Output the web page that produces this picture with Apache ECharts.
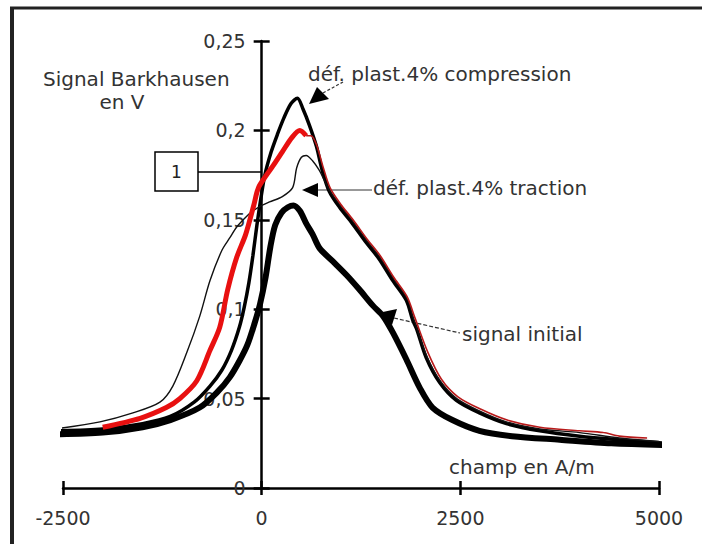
<!DOCTYPE html>
<html><head><meta charset="utf-8">
<script src="https://cdn.jsdelivr.net/npm/echarts@6/dist/echarts.min.js"></script>
<style>html,body{margin:0;padding:0;background:#fff}#c{width:702px;height:544px}</style>
</head><body><div id="c"></div>
<script>
// ---- data (champ en A/m, signal en V) ----
const xTickValues = [-2500, 0, 2500, 5000];
const yTickLabels = ['0', '0,05', '0,1', '0,15', '0,2', '0,25'];

const signalInitial = [
  [-2600,0.030],[-2000,0.031],[-1500,0.034],[-1150,0.038],[-780,0.045],[-550,0.054],
  [-400,0.062],[-280,0.071],[-180,0.080],[-90,0.092],[-20,0.103],[50,0.118],[110,0.135],
  [170,0.147],[250,0.154],[330,0.157],[400,0.158],[480,0.155],[560,0.148],[640,0.142],
  [730,0.134],[890,0.127],[1070,0.119],[1230,0.111],[1400,0.102],[1530,0.096],[1650,0.087],
  [1820,0.072],[1990,0.056],[2150,0.045],[2400,0.038],[2740,0.032],[3150,0.029],[3750,0.027],
  [4400,0.025],[5100,0.024]
];
const compression = [
  [-2600,0.032],[-2000,0.033],[-1500,0.036],[-1150,0.040],[-850,0.048],[-650,0.057],
  [-500,0.066],[-380,0.077],[-280,0.090],[-220,0.101],[-160,0.115],[-110,0.130],[-60,0.147],
  [-10,0.162],[40,0.175],[120,0.188],[200,0.198],[280,0.207],[370,0.215],[450,0.218],
  [520,0.212],[600,0.203],[690,0.191],[760,0.178],[850,0.166],[980,0.157],[1140,0.148],
  [1320,0.137],[1480,0.128],[1650,0.116],[1820,0.105],[1900,0.094],[1950,0.089],[2070,0.073],
  [2240,0.059],[2450,0.049],[2740,0.042],[3080,0.036],[3500,0.032],[4000,0.029],[4500,0.027],
  [5100,0.025]
];
const traction = [
  [-2600,0.033],[-2035,0.037],[-1620,0.042],[-1280,0.048],[-1118,0.057],[-940,0.076],
  [-780,0.096],[-650,0.116],[-500,0.133],[-400,0.140],[-314,0.146],[-188,0.152],[-110,0.155],
  [0,0.158],[100,0.160],[260,0.163],[390,0.168],[440,0.179],[500,0.185],[560,0.186],
  [640,0.183],[720,0.178],[790,0.172],[860,0.166],[990,0.158],[1150,0.149],[1330,0.138],
  [1490,0.129],[1660,0.117],[1830,0.106],[1910,0.095],[2075,0.074],[2245,0.060],[2455,0.050],
  [2745,0.043],[3080,0.037],[3500,0.033],[4000,0.031],[4500,0.028],[5000,0.026]
];
const redRise = [
  [-2000,0.034],[-1530,0.039],[-1200,0.045],[-1030,0.050],[-816,0.060],[-650,0.077],
  [-527,0.090],[-427,0.111],[-314,0.129],[-200,0.142],[-100,0.158],[-40,0.168],[60,0.175],
  [140,0.180],[260,0.188],[380,0.196],[480,0.200],[560,0.197]
];
const redFall = [
  [560,0.197],[620,0.197],[690,0.192],[770,0.180],[860,0.168],[990,0.159],[1150,0.150],
  [1330,0.139],[1490,0.130],[1660,0.118],[1830,0.107],[1930,0.095],[2090,0.076],[2260,0.061],
  [2470,0.051],[2760,0.044],[3090,0.038],[3500,0.034],[4000,0.032],[4300,0.031],[4500,0.029],
  [4850,0.028]
];

const FONT = 'DejaVu Sans';
const GRID = {left: 63, right: 43, top: 41, bottom: 56};
const X_MIN = -2500, X_MAX = 5000;
// shift the vertical axis so it sits at champ = 0
const yAxisOffset = -((0 - X_MIN) / (X_MAX - X_MIN)) * (702 - GRID.left - GRID.right);

const chart = echarts.init(document.getElementById('c'), null, {renderer: 'svg'});

function lineSeries(data, color, width, z) {
  return {type: 'line', data: data, showSymbol: false, symbol: 'none', smooth: 0.3,
    clip: false, z: z, lineStyle: {color: color, width: width}, silent: true};
}
const axisBase = {
  type: 'value', min: X_MIN, max: X_MAX, interval: 2500,
  splitLine: {show: false}
};

chart.setOption({
  animation: false,
  grid: GRID,
  xAxis: [
    Object.assign({}, axisBase, {
      position: 'bottom',
      axisLine: {show: true, onZero: false, lineStyle: {color: '#000', width: 2.5}},
      axisTick: {show: true, inside: false, length: 7, lineStyle: {color: '#000', width: 2.5}},
      axisLabel: {show: true, margin: 20, color: '#333', fontFamily: FONT, fontSize: 19,
        formatter: v => xTickValues.indexOf(v) >= 0 ? String(v) : ''}
    }),
    Object.assign({}, axisBase, {
      position: 'bottom',
      axisLine: {show: false, onZero: false},
      axisTick: {show: true, inside: true, length: 7, lineStyle: {color: '#000', width: 2.5}},
      axisLabel: {show: false}
    })
  ],
  yAxis: [
    {
      type: 'value', min: 0, max: 0.25, interval: 0.05, position: 'left', offset: yAxisOffset,
      splitLine: {show: false},
      axisLine: {show: true, onZero: false, lineStyle: {color: '#000', width: 2.5}},
      axisTick: {show: true, inside: false, length: 8, lineStyle: {color: '#000', width: 2.5}},
      axisLabel: {show: true, margin: 16, color: '#333', fontFamily: FONT, fontSize: 19,
        formatter: v => yTickLabels[Math.round(v / 0.05)]}
    },
    {
      type: 'value', min: 0, max: 0.25, interval: 0.05, position: 'left', offset: yAxisOffset,
      splitLine: {show: false},
      axisLine: {show: false, onZero: false},
      axisTick: {show: true, inside: true, length: 8, lineStyle: {color: '#000', width: 2.5}},
      axisLabel: {show: false}
    }
  ],
  series: [
    lineSeries(signalInitial, '#000', 6, 3),
    lineSeries(compression, '#000', 3.5, 4),
    lineSeries(traction, '#111', 1.4, 5),
    lineSeries(redRise, '#e81010', 5, 6),
    lineSeries(redFall, '#b81a1a', 1.6, 6)
  ],
  graphic: [
    {type: 'line', shape: {x1: 10, y1: 8, x2: 702, y2: 8}, style: {stroke: '#222', lineWidth: 3}},
    {type: 'line', shape: {x1: 12, y1: 7, x2: 12, y2: 544}, style: {stroke: '#222', lineWidth: 4}},
    {type: 'line', shape: {x1: 198, y1: 172, x2: 262, y2: 172}, style: {stroke: '#000', lineWidth: 1.5}},
    {type: 'rect', shape: {x: 155, y: 152, width: 43, height: 39}, style: {fill: '#fff', stroke: '#000', lineWidth: 1.5}},
    {type: 'text', x: 176.5, y: 172, style: {text: '1', fontFamily: FONT, fontSize: 17, fill: '#222', align: 'center', verticalAlign: 'middle'}},
    {type: 'text', x: 43, y: 79, style: {text: 'Signal Barkhausen', fontFamily: FONT, fontSize: 20, fill: '#333', align: 'left', verticalAlign: 'middle'}},
    {type: 'text', x: 122, y: 102, style: {text: 'en V', fontFamily: FONT, fontSize: 20, fill: '#333', align: 'center', verticalAlign: 'middle'}},
    {type: 'text', x: 308, y: 74, style: {text: 'déf. plast.4% compression', fontFamily: FONT, fontSize: 20, fill: '#333', align: 'left', verticalAlign: 'middle'}},
    {type: 'text', x: 373, y: 188, style: {text: 'déf. plast.4% traction', fontFamily: FONT, fontSize: 20, fill: '#333', align: 'left', verticalAlign: 'middle'}},
    {type: 'text', x: 462, y: 334, style: {text: 'signal initial', fontFamily: FONT, fontSize: 20, fill: '#333', align: 'left', verticalAlign: 'middle'}},
    {type: 'text', x: 449, y: 467, style: {text: 'champ en A/m', fontFamily: FONT, fontSize: 20, fill: '#333', align: 'left', verticalAlign: 'middle'}},
    // arrows
    {type: 'polygon', shape: {points: [[309, 104], [317, 87], [329, 99]]}, style: {fill: '#000'}},
    {type: 'line', shape: {x1: 323, y1: 93, x2: 343, y2: 82}, style: {stroke: '#333', lineWidth: 1.2, lineDash: [3, 2]}},
    {type: 'polygon', shape: {points: [[302, 190], [318, 183], [318, 197]]}, style: {fill: '#000'}},
    {type: 'line', shape: {x1: 318, y1: 190, x2: 372, y2: 190}, style: {stroke: '#333', lineWidth: 1}},
    {type: 'polygon', shape: {points: [[378, 313], [397, 309], [392, 325]]}, style: {fill: '#000'}},
    {type: 'line', shape: {x1: 394, y1: 318, x2: 460, y2: 333}, style: {stroke: '#333', lineWidth: 1.2, lineDash: [4, 2]}}
  ]
});
</script>
</body></html>
